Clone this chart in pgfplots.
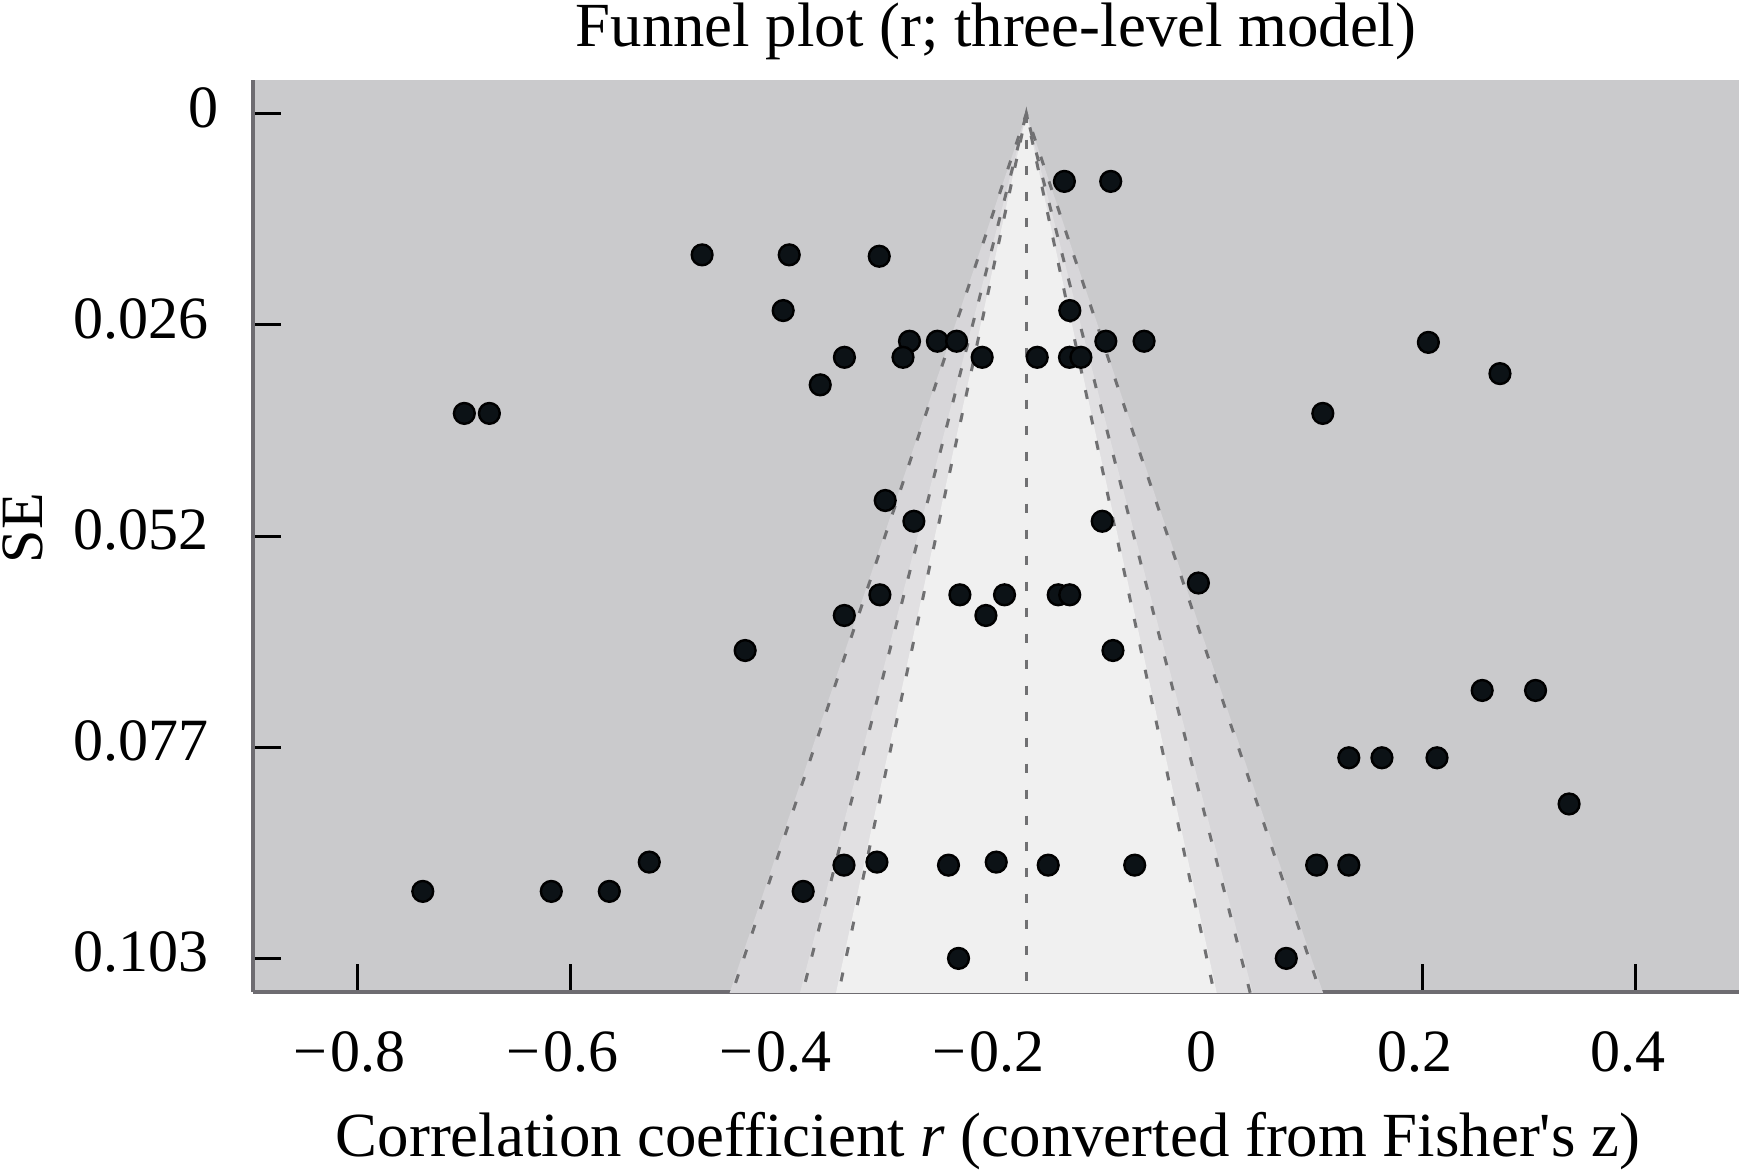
\documentclass[border=0pt]{standalone}
\usepackage{fontspec}
\setmainfont{Liberation Serif}[Ligatures=TeXOff]
\usepackage{pgfplots}
\pgfplotsset{compat=1.18}

\definecolor{bggray}{RGB}{202,202,204}
\definecolor{band99}{RGB}{215,214,217}
\definecolor{band95}{RGB}{225,224,226}
\definecolor{band90}{RGB}{240,240,240}
\definecolor{dashgray}{RGB}{112,112,114}
\definecolor{axgray}{RGB}{110,108,113}
\definecolor{dotfill}{RGB}{12,18,22}

\newcommand{\lblfont}{\fontsize{15}{18}\selectfont}
\newcommand{\ttlfont}{\fontsize{15.7}{19}\selectfont}
\newcommand{\mn}{−\kern0.8pt}

% effect sizes (r) and standard errors
\pgfplotstableread{
r SE
-0.1363 0.00826
-0.0928 0.00826
-0.4764 0.01722
-0.3946 0.01722
-0.3101 0.01739
-0.4003 0.02401
-0.1312 0.02401
-0.2817 0.02775
-0.2555 0.02775
-0.2375 0.02775
-0.0974 0.02775
-0.0615 0.02775
0.2054 0.02789
-0.3428 0.02971
-0.2878 0.02971
-0.2135 0.02971
-0.1618 0.02971
-0.1315 0.02971
-0.1208 0.02971
0.2726 0.03170
-0.3655 0.03307
-0.6996 0.03655
-0.6761 0.03655
0.1063 0.03655
-0.3045 0.04717
-0.2776 0.04970
-0.1008 0.04970
-0.0105 0.05723
-0.3095 0.05867
-0.2344 0.05867
-0.1925 0.05867
-0.1421 0.05867
-0.1313 0.05867
-0.3429 0.06119
-0.2100 0.06119
-0.4360 0.06546
-0.0907 0.06546
0.2559 0.07033
0.3060 0.07033
0.1307 0.07854
0.1618 0.07854
0.2135 0.07854
0.3375 0.08417
-0.5260 0.09126
-0.3123 0.09126
-0.2003 0.09126
-0.3432 0.09163
-0.2451 0.09163
-0.1515 0.09163
-0.0703 0.09163
0.1005 0.09163
0.1307 0.09163
-0.7386 0.09483
-0.6180 0.09483
-0.5635 0.09483
-0.3815 0.09483
-0.2357 0.1030
0.0720 0.1030
}\studies

\begin{document}
\begin{tikzpicture}
\begin{axis}[
  name=ax,
  scale only axis,
  width=371.5pt, height=228pt,
  xmin=-0.898, xmax=0.497,
  ymin=-0.0041, ymax=0.1071,
  y dir=reverse,
  axis background/.style={fill=bggray},
  axis x line*=bottom, axis y line*=left,
  axis line style={-, axgray, line width=0.85pt},
  xtick={-0.8,-0.6,-0.4,-0.2,0,0.2,0.4},
  xticklabels={\mn0.8,\mn0.6,\mn0.4,\mn0.2,0,0.2,0.4},
  ytick={0,0.02575,0.0515,0.07725,0.103},
  yticklabels={0\kern-2.5pt,0.026,0.052,0.077,0.103},
  tick align=inside,
  major tick length=7pt,
  tick style={black, line width=0.75pt},
  xticklabel style={anchor=base, inner sep=0pt, xshift=-2pt, yshift=-19.9pt, font=\lblfont},
  yticklabel style={anchor=east, inner sep=0pt, xshift=-11pt, yshift=1.5pt, font=\lblfont},
]
% contour bands (99%, 95%, 90%)
\addplot[fill=band99, draw=none] coordinates {(-0.172,0) (-0.4630,0.112) (0.1190,0.112)} -- cycle;
\addplot[fill=band95, draw=none] coordinates {(-0.172,0) (-0.3940,0.112) (0.0500,0.112)} -- cycle;
\addplot[fill=band90, draw=none] coordinates {(-0.172,0) (-0.3587,0.112) (0.0147,0.112)} -- cycle;
% funnel lines
\addplot[dashgray, line width=0.75pt, dash pattern=on 2.25pt off 4.25pt] coordinates {(-0.4605,0.112) (-0.172,0) (0.1165,0.112)};
\addplot[dashgray, line width=0.75pt, dash pattern=on 2.25pt off 4.25pt] coordinates {(-0.3915,0.112) (-0.172,0) (0.0475,0.112)};
\addplot[dashgray, line width=0.75pt, dash pattern=on 2.25pt off 4.25pt] coordinates {(-0.3562,0.112) (-0.172,0) (0.0122,0.112)};
\addplot[dashgray, line width=0.75pt, dash pattern=on 2.25pt off 4.25pt] coordinates {(-0.172,0) (-0.172,0.112)};
% studies
\addplot[only marks, mark=*, mark size=2.6pt, mark options={fill=dotfill, draw=black, line width=0.6pt}] table[x=r, y=SE] {\studies};
\end{axis}
\node[anchor=base, font=\ttlfont] at ([yshift=8.4pt]ax.north) {Funnel plot (r; three-level model)};
\node[anchor=base, font=\ttlfont] at ([xshift=-2pt, yshift=-41.2pt]ax.south) {Correlation coefficient \textit{r} (converted from Fisher's z)};
\node[anchor=base, rotate=90, font=\lblfont] at ([xshift=-52.5pt, yshift=2pt]ax.west) {SE};
\pgfresetboundingbox
\path ([xshift=-63.25pt, yshift=-44.5pt]ax.south west) rectangle ([yshift=20pt]ax.north east);
\end{tikzpicture}
\end{document}
